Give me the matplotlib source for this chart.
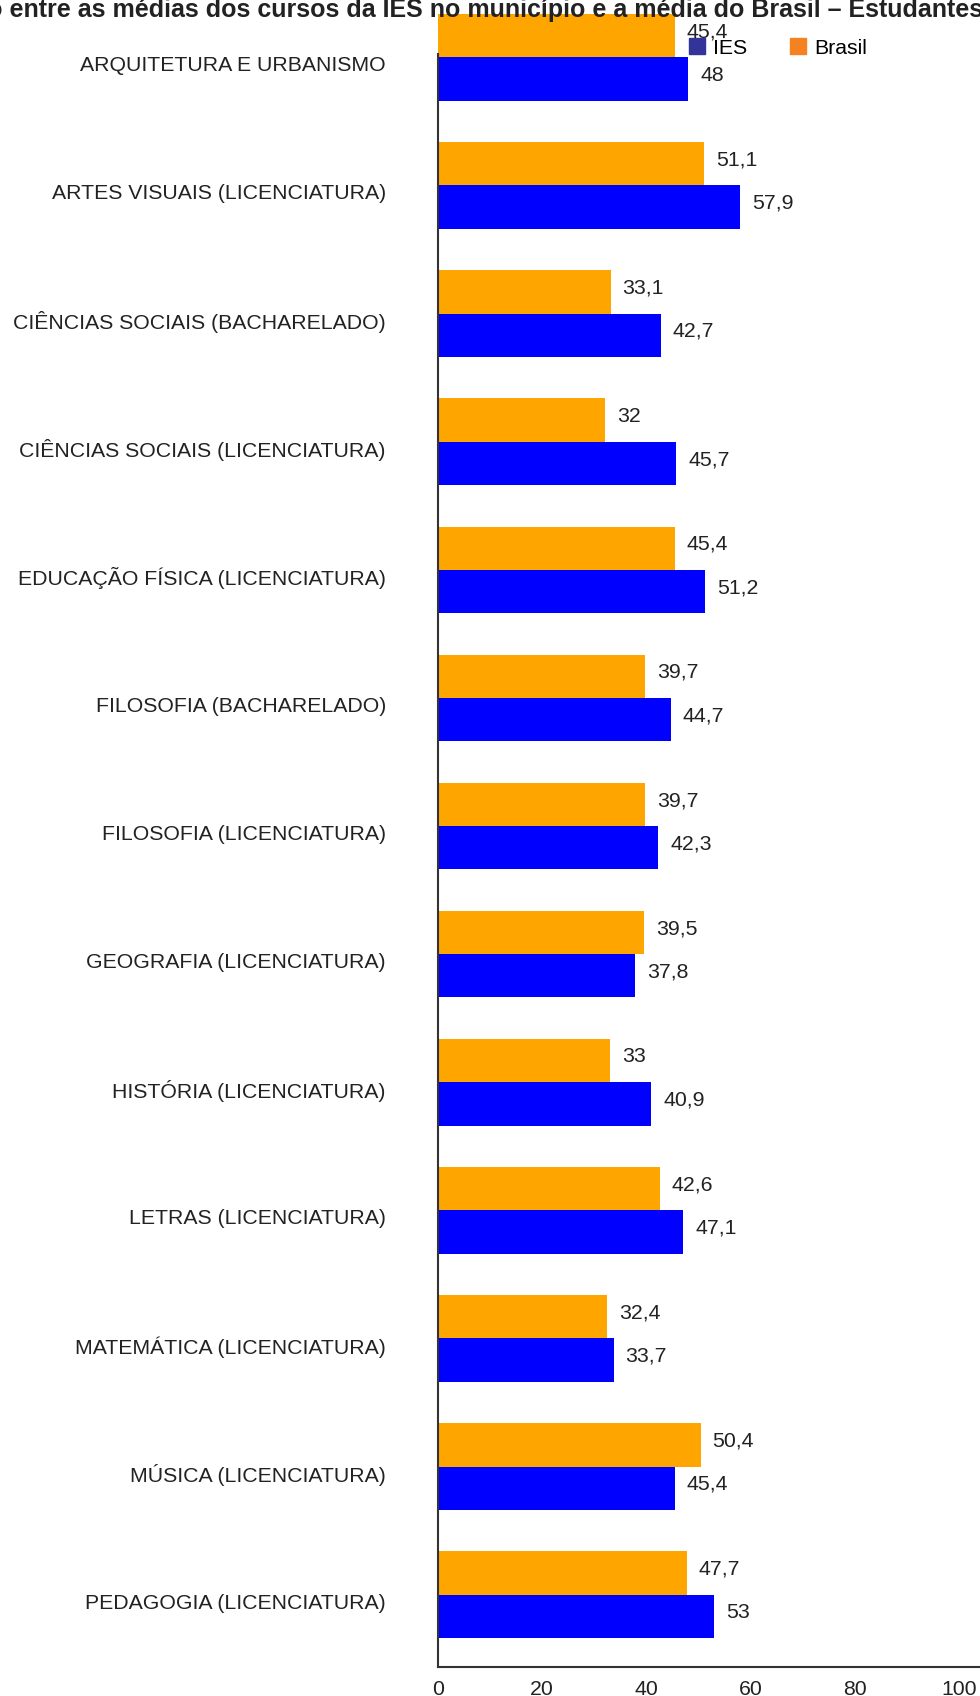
import numpy as np
import matplotlib.pyplot as plt
from matplotlib.patches import Patch

categories = ["ARQUITETURA E URBANISMO", "ARTES VISUAIS (LICENCIATURA)",
              "CIÊNCIAS SOCIAIS (BACHARELADO)", "CIÊNCIAS SOCIAIS (LICENCIATURA)",
              "EDUCAÇÃO FÍSICA (LICENCIATURA)", "FILOSOFIA (BACHARELADO)",
              "FILOSOFIA (LICENCIATURA)", "GEOGRAFIA (LICENCIATURA)",
              "HISTÓRIA (LICENCIATURA)", "LETRAS (LICENCIATURA)",
              "MATEMÁTICA (LICENCIATURA)", "MÚSICA (LICENCIATURA)",
              "PEDAGOGIA (LICENCIATURA)"]
brasil = [45.4, 51.1, 33.1, 32, 45.4, 39.7, 39.7, 39.5, 33, 42.6, 32.4, 50.4, 47.7]
ies = [48, 57.9, 42.7, 45.7, 51.2, 44.7, 42.3, 37.8, 40.9, 47.1, 33.7, 45.4, 53]
xticks = [0, 20, 40, 60, 80, 100]
title = "Comparação entre as médias dos cursos da IES no município e a média do Brasil – Estudantes"

plt.rc('font', family=['Liberation Sans', 'DejaVu Sans'])
fs = 15.3

def fmt(v):
    s = ('%.1f' % v).rstrip('0').rstrip('.')
    return s.replace('.', ',')

fig = plt.figure(figsize=(9.8, 16.96), dpi=100)
ax = fig.add_axes([438/980, 29/1696, 1 - 438/980, 1667/1696])

y = np.arange(len(categories))
h = 0.338
off = 0.05
ax.barh(y - off - h/2, brasil, height=h, color='#FFA500')
ax.barh(y - off + h/2, ies, height=h, color='#0000FF')

for yi, b, i in zip(y, brasil, ies):
    ax.text(b + 2.3, yi - off - h/2 - 0.03, fmt(b), va='center', ha='left', fontsize=fs, color='#222222')
    ax.text(i + 2.3, yi - off + h/2 - 0.03, fmt(i), va='center', ha='left', fontsize=fs, color='#222222')

ax.set_ylim(12.515, -0.498)
ax.set_xlim(0, 104)
ax.set_yticks(y)
ax.set_yticklabels(categories, fontsize=fs, color='#222222')
ax.set_xticks(xticks)
ax.set_xticklabels([str(t) for t in xticks], fontsize=fs, color='#222222')
ax.tick_params(left=False, bottom=False, axis='y', pad=34)
ax.tick_params(axis='x', bottom=False, pad=6)
for s in ['top', 'right']:
    ax.spines[s].set_visible(False)
for s in ['left', 'bottom']:
    ax.spines[s].set_color('#333333')
    ax.spines[s].set_linewidth(1.5)
ax.spines['left'].set_bounds(12.515, -0.08)

handles = [Patch(color='#333399', label='IES'), Patch(color='#F58220', label='Brasil')]
fig.legend(handles=handles, ncol=2, frameon=False, fontsize=fs,
           loc='center left', bbox_to_anchor=(689/980, 1 - 48/1696),
           handlelength=0.75, handleheight=0.75, handletextpad=0.4,
           columnspacing=2.0, borderpad=0, borderaxespad=0)

fig.text(1.003, 1 - 17/1696, title, ha='right', va='baseline',
         fontsize=18, fontweight='bold', color='#222222')

fig.savefig('out.png', dpi=100)
